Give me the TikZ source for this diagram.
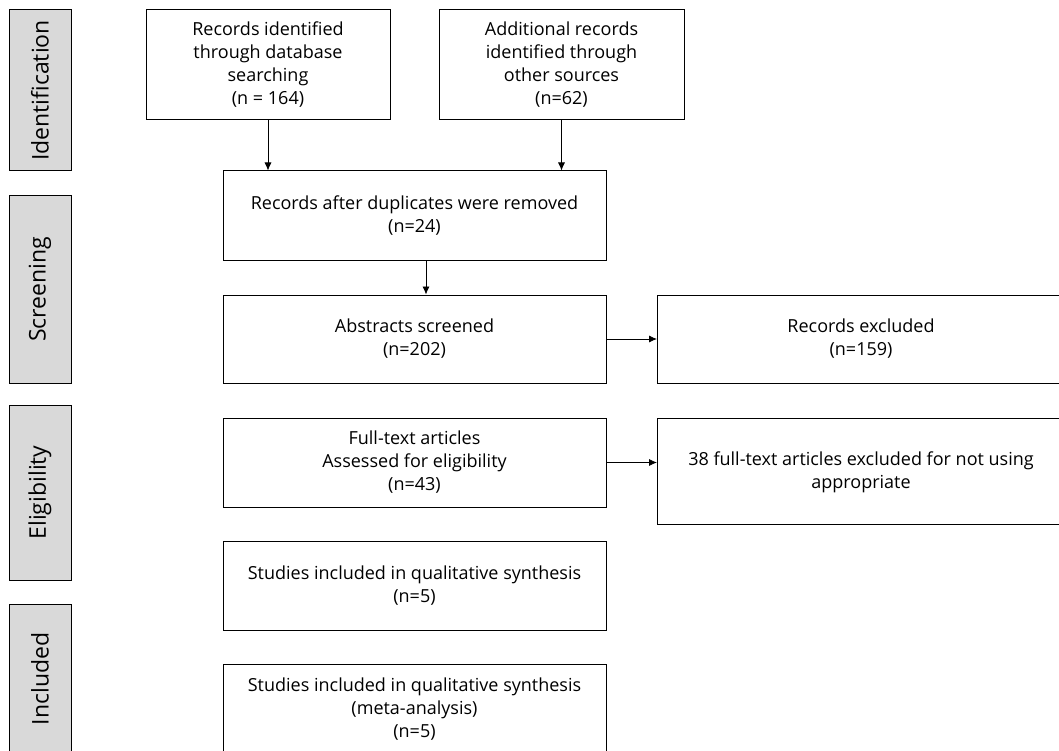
\documentclass[tikz,border=0pt]{standalone}
\usepackage{fontspec}
\setmainfont{Open Sans}
\usetikzlibrary{arrows.meta}
\begin{document}
\begin{tikzpicture}[x=1pt,y=-1pt,
  boxfont/.style={font=\fontsize{18}{23}\selectfont},
  box/.style={draw=black, line width=1pt, fill=white, align=center, inner sep=0pt, boxfont},
  boxtext/.style={align=center, inner sep=0pt, boxfont},
  phase/.style={draw=black, line width=1pt, fill=phasegray, inner sep=0pt},
  phaselabel/.style={rotate=90, font=\fontsize{23}{26}\selectfont, inner sep=0pt},
  arr/.style={-{Latex[length=8pt,width=7pt]}, line width=0.8pt}]
\definecolor{phasegray}{HTML}{D9D9D9}
\useasboundingbox (0,0) rectangle (1059,751);
\clip (0,0) rectangle (1059,751);
\fill[white] (0,0) rectangle (1059,751);
% phase bars
\node[phase, minimum width=62pt, minimum height=161pt] (pid) at (40,90.5) {};
\node[phaselabel] (lid) at (pid.center) {Identification};
\node[phase, minimum width=62pt, minimum height=187pt] (psc) at (40,289.5) {};
\node[phaselabel] (lsc) at (psc.center) {Screening};
\node[phase, minimum width=62pt, minimum height=175pt] (pel) at (40,492.5) {};
\node[phaselabel] (lel) at (pel.center) {Eligibility};
\node[phase, minimum width=62pt, minimum height=170pt] (pin) at (40,689) {};
\node[phaselabel] (lin) at (40,679) {Included};
% boxes
\node[box, minimum width=244pt, minimum height=110pt] (a) at (268,65) {Records identified\\through database\\searching\\(n = 164)};
\node[box, minimum width=245pt, minimum height=110pt] (b) at (561.5,65) {Additional records\\identified through\\other sources\\(n=62)};
\node[box, minimum width=383pt, minimum height=89pt] (c) at (414.5,215.5) {Records after duplicates were removed\\(n=24)};
\node[box, minimum width=383pt, minimum height=88pt] (d) at (414.5,339) {Abstracts screened\\(n=202)};
\node[box, minimum width=410pt, minimum height=88pt, anchor=west] (e) at (657,339) {};
\node[boxtext] (et) at (861,339) {Records excluded\\(n=159)};
\node[box, minimum width=383pt, minimum height=89pt] (f) at (414.5,462.5) {Full-text articles\\Assessed for eligibility\\(n=43)};
\node[box, minimum width=410pt, minimum height=106pt, anchor=west] (g) at (657,471) {};
\node[boxtext] (gt) at (861,472) {38 full-text articles excluded for not using\\appropriate};
\node[box, minimum width=383pt, minimum height=89pt] (h) at (414.5,585.5) {Studies included in qualitative synthesis\\(n=5)};
\node[box, minimum width=383pt, minimum height=100pt, anchor=north] (i) at (414.5,664) {};
\node[boxtext] (it) at (414.5,709) {Studies included in qualitative synthesis\\(meta-analysis)\\(n=5)};
% arrows
\draw[arr] (a.south) -- (a.south |- c.north);
\draw[arr] (b.south) -- (b.south |- c.north);
\draw[arr] (c.south -| 426,0) -- (d.north -| 426,0);
\draw[arr] (d.east) -- (e.west);
\draw[arr] (f.east) -- (f.east -| e.west);
\end{tikzpicture}
\end{document}
